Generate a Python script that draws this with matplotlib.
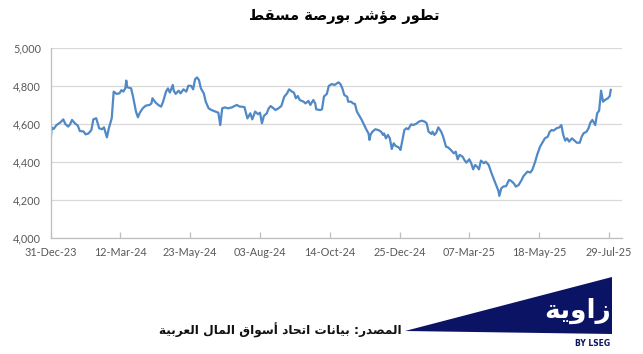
import numpy as np
import matplotlib
matplotlib.use('Agg')
import matplotlib.pyplot as plt
import matplotlib.dates as mdates
from matplotlib.patches import Polygon
from matplotlib.ticker import FuncFormatter, FixedLocator
import datetime as dt

# ---------------- data ----------------
start_date = '2023-12-31'
day_offsets = [
    0, 1, 3, 6, 10, 13, 15, 18, 20, 22, 25, 28, 30, 34, 36, 39, 42, 44, 47, 50,
    53, 55, 56, 58, 60, 63, 65, 68, 71, 73, 75, 77, 78, 79, 83, 85, 88, 90, 92, 95,
    98, 102, 104, 105, 108, 111, 114, 116, 119, 121, 123, 126, 127, 129, 132, 134, 137, 140, 142, 145,
    147, 149, 151, 153, 155, 158, 160, 163, 166, 170, 173, 175, 177, 180, 183, 187, 192, 195, 197, 200,
    203, 206, 208, 211, 214, 216, 218, 220, 223, 225, 227, 230, 232, 235, 238, 241, 244, 246, 249, 251,
    253, 255, 257, 261, 263, 266, 268, 271, 273, 274, 278, 280, 282, 285, 287, 290, 293, 297, 299, 301,
    303, 306, 307, 310, 312, 314, 316, 319, 321, 323, 326, 328, 329, 330, 332, 335, 338, 341, 343, 344,
    346, 348, 350, 352, 354, 356, 359, 361, 362, 365, 367, 369, 372, 374, 377, 380, 383, 386, 388, 390,
    393, 394, 396, 398, 400, 403, 405, 408, 410, 413, 416, 418, 420, 422, 425, 427, 429, 432, 434, 436,
    438, 440, 442, 444, 447, 449, 452, 455, 459, 462, 463, 465, 467, 470, 473, 475, 478, 480, 483, 486,
    488, 490, 492, 495, 497, 500, 502, 505, 508, 510, 513, 515, 517, 519, 522, 525, 527, 529, 531, 533,
    535, 538, 540, 543, 546, 548, 550, 553, 555, 557, 559, 562, 564, 566, 568, 570, 572, 575, 577, 578,
]
index_values = [
    4512, 4584, 4575, 4596, 4610, 4626, 4602, 4588, 4600, 4623, 4605, 4593, 4565, 4562, 4547, 4552, 4570, 4626, 4632, 4579,
    4574, 4584, 4567, 4531, 4579, 4632, 4772, 4760, 4763, 4780, 4772, 4790, 4830, 4795, 4789, 4745, 4667, 4637, 4661, 4684,
    4698, 4702, 4710, 4737, 4716, 4702, 4693, 4719, 4772, 4789, 4767, 4807, 4777, 4760, 4777, 4763, 4784, 4772, 4803, 4802,
    4784, 4837, 4847, 4833, 4789, 4763, 4719, 4684, 4675, 4667, 4661, 4596, 4684, 4689, 4684, 4689, 4702, 4693, 4693, 4690,
    4631, 4658, 4626, 4667, 4653, 4661, 4605, 4644, 4658, 4684, 4696, 4684, 4675, 4684, 4696, 4745, 4763, 4784, 4772, 4767,
    4737, 4749, 4728, 4719, 4710, 4723, 4702, 4728, 4710, 4679, 4675, 4679, 4746, 4760, 4802, 4812, 4807, 4821, 4812, 4789,
    4754, 4745, 4719, 4719, 4710, 4707, 4667, 4640, 4623, 4602, 4570, 4552, 4518, 4544, 4561, 4574, 4570, 4561, 4544, 4552,
    4526, 4544, 4526, 4470, 4500, 4486, 4479, 4465, 4491, 4570, 4579, 4574, 4600, 4596, 4602, 4614, 4619, 4614, 4605, 4561,
    4549, 4561, 4544, 4556, 4584, 4561, 4535, 4482, 4479, 4465, 4447, 4456, 4416, 4439, 4430, 4412, 4398, 4416, 4395, 4363,
    4386, 4377, 4363, 4409, 4395, 4403, 4386, 4342, 4289, 4251, 4223, 4263, 4272, 4275, 4307, 4303, 4289, 4272, 4281, 4307,
    4328, 4339, 4351, 4346, 4360, 4403, 4439, 4482, 4509, 4526, 4535, 4561, 4570, 4567, 4579, 4584, 4596, 4544, 4514, 4526,
    4509, 4526, 4517, 4503, 4503, 4535, 4553, 4561, 4579, 4609, 4623, 4596, 4658, 4672, 4777, 4719, 4728, 4737, 4749, 4781,
]
y_ticks = [4000, 4200, 4400, 4600, 4800, 5000]
x_tick_labels = ['31-Dec-23', '12-Mar-24', '23-May-24', '03-Aug-24', '14-Oct-24',
                 '25-Dec-24', '07-Mar-25', '18-May-25', '29-Jul-25']
title_text = 'تطور مؤشر بورصة مسقط'
source_text = 'المصدر: بيانات اتحاد أسواق المال العربية'
logo_text = 'زاوية'
logo_sub = 'BY LSEG'


# ---------------- minimal Arabic shaping ----------------
FORMS = {  # isolated, final, initial, medial
    '\u0627': (0xFE8D, 0xFE8E, None, None),
    '\u0623': (0xFE83, 0xFE84, None, None),
    '\u0625': (0xFE87, 0xFE88, None, None),
    '\u0622': (0xFE81, 0xFE82, None, None),
    '\u0624': (0xFE85, 0xFE86, None, None),
    '\u0628': (0xFE8F, 0xFE90, 0xFE91, 0xFE92),
    '\u0629': (0xFE93, 0xFE94, None, None),
    '\u062A': (0xFE95, 0xFE96, 0xFE97, 0xFE98),
    '\u062B': (0xFE99, 0xFE9A, 0xFE9B, 0xFE9C),
    '\u062C': (0xFE9D, 0xFE9E, 0xFE9F, 0xFEA0),
    '\u062D': (0xFEA1, 0xFEA2, 0xFEA3, 0xFEA4),
    '\u062E': (0xFEA5, 0xFEA6, 0xFEA7, 0xFEA8),
    '\u062F': (0xFEA9, 0xFEAA, None, None),
    '\u0630': (0xFEAB, 0xFEAC, None, None),
    '\u0631': (0xFEAD, 0xFEAE, None, None),
    '\u0632': (0xFEAF, 0xFEB0, None, None),
    '\u0633': (0xFEB1, 0xFEB2, 0xFEB3, 0xFEB4),
    '\u0634': (0xFEB5, 0xFEB6, 0xFEB7, 0xFEB8),
    '\u0635': (0xFEB9, 0xFEBA, 0xFEBB, 0xFEBC),
    '\u0636': (0xFEBD, 0xFEBE, 0xFEBF, 0xFEC0),
    '\u0637': (0xFEC1, 0xFEC2, 0xFEC3, 0xFEC4),
    '\u0638': (0xFEC5, 0xFEC6, 0xFEC7, 0xFEC8),
    '\u0639': (0xFEC9, 0xFECA, 0xFECB, 0xFECC),
    '\u063A': (0xFECD, 0xFECE, 0xFECF, 0xFED0),
    '\u0641': (0xFED1, 0xFED2, 0xFED3, 0xFED4),
    '\u0642': (0xFED5, 0xFED6, 0xFED7, 0xFED8),
    '\u0643': (0xFED9, 0xFEDA, 0xFEDB, 0xFEDC),
    '\u0644': (0xFEDD, 0xFEDE, 0xFEDF, 0xFEE0),
    '\u0645': (0xFEE1, 0xFEE2, 0xFEE3, 0xFEE4),
    '\u0646': (0xFEE5, 0xFEE6, 0xFEE7, 0xFEE8),
    '\u0647': (0xFEE9, 0xFEEA, 0xFEEB, 0xFEEC),
    '\u0648': (0xFEED, 0xFEEE, None, None),
    '\u0649': (0xFEEF, 0xFEF0, None, None),
    '\u064A': (0xFEF1, 0xFEF2, 0xFEF3, 0xFEF4),
}
LAM_ALEF = {'\u0627': (0xFEFB, 0xFEFC), '\u0623': (0xFEF7, 0xFEF8),
            '\u0625': (0xFEF9, 0xFEFA), '\u0622': (0xFEF5, 0xFEF6)}


def shape_arabic(text):
    chars = list(text)
    merged = []
    i = 0
    while i < len(chars):
        if chars[i] == '\u0644' and i + 1 < len(chars) and chars[i + 1] in LAM_ALEF:
            merged.append(('LA', chars[i + 1]))
            i += 2
        else:
            merged.append(chars[i])
            i += 1

    def joins_next(c):
        if isinstance(c, tuple):
            return False
        return c in FORMS and FORMS[c][2] is not None

    def is_letter(c):
        return isinstance(c, tuple) or c in FORMS

    out = []
    for k, c in enumerate(merged):
        prev = merged[k - 1] if k > 0 else None
        nxt = merged[k + 1] if k + 1 < len(merged) else None
        con_prev = prev is not None and joins_next(prev)
        if isinstance(c, tuple):
            iso, fin = LAM_ALEF[c[1]]
            out.append(chr(fin if con_prev else iso))
            continue
        if c not in FORMS:
            out.append(c)
            continue
        iso, fin, ini, med = FORMS[c]
        con_next = ini is not None and nxt is not None and is_letter(nxt)
        if con_prev and con_next:
            out.append(chr(med))
        elif con_prev:
            out.append(chr(fin))
        elif con_next:
            out.append(chr(ini))
        else:
            out.append(chr(iso))
    return ''.join(out)[::-1]


# ---------------- figure ----------------
W, H = 643, 354
fig = plt.figure(figsize=(W / 100, H / 100), dpi=100)
fig.patch.set_facecolor('white')

ax_left, ax_right, ax_top, ax_bottom = 50.7, 622, 48.3, 238.3
ax = fig.add_axes([ax_left / W, 1 - ax_bottom / H,
                   (ax_right - ax_left) / W, (ax_bottom - ax_top) / H])

base = np.datetime64(start_date)
dates = base + np.array(day_offsets).astype('timedelta64[D]')
ax.plot(dates.astype('datetime64[D]').astype(dt.datetime), index_values,
        color='#5089c6', linewidth=1.6, solid_joinstyle='round')

ax.set_ylim(4000, 5000)
ax.set_yticks(y_ticks)
ax.yaxis.set_major_formatter(FuncFormatter(lambda v, p: f'{int(v):,}'))

start_dt = dt.datetime.strptime(start_date, '%Y-%m-%d')
ax.set_xlim(start_dt, start_dt + dt.timedelta(days=589.6))
tick_dates = [dt.datetime.strptime(s, '%d-%b-%y') for s in x_tick_labels]
ax.xaxis.set_major_locator(FixedLocator(mdates.date2num(tick_dates)))
ax.set_xticklabels(x_tick_labels)

ax.grid(axis='y', color='#d9d9d9', linewidth=0.9)
ax.set_axisbelow(True)
for s in ['top', 'right']:
    ax.spines[s].set_visible(False)
for s in ['left', 'bottom']:
    ax.spines[s].set_color('#bfbfbf')
    ax.spines[s].set_linewidth(0.9)

tick_font = 'Lato'
ax.tick_params(axis='y', length=0, pad=7, labelsize=7.8, labelcolor='#595959')
ax.tick_params(axis='x', direction='in', length=4, width=0.9, color='#bfbfbf',
               pad=6, labelsize=7.8, labelcolor='#595959')
for lab in ax.get_xticklabels() + ax.get_yticklabels():
    lab.set_fontfamily(tick_font)

# title
fig.text(344 / W, 1 - 16 / H, shape_arabic(title_text), ha='center', va='center',
         fontsize=10.5, fontweight='bold', family=['DejaVu Sans'], color='black')

# source
fig.text(402 / W, 1 - 330 / H, shape_arabic(source_text), ha='right', va='center',
         fontsize=8.7, fontweight='bold', family=['DejaVu Sans'], color='#111111')

# logo
navy = '#0b1464'
tri = [(405, 331), (612, 277), (612, 334)]
fig.patches.append(Polygon([(x / W, 1 - y / H) for x, y in tri], closed=True,
                           transform=fig.transFigure, facecolor=navy,
                           edgecolor='none'))
fig.text(611 / W, 1 - 311 / H, shape_arabic(logo_text), ha='right', va='center',
         fontsize=19, fontweight='bold', family=['DejaVu Sans'], color='white')
fig.text(610 / W, 1 - 343 / H, logo_sub, ha='right', va='center',
         fontsize=5.5, fontweight='bold', family=['DejaVu Sans'], color=navy)

fig.savefig('out.png', dpi=100, facecolor='white')
